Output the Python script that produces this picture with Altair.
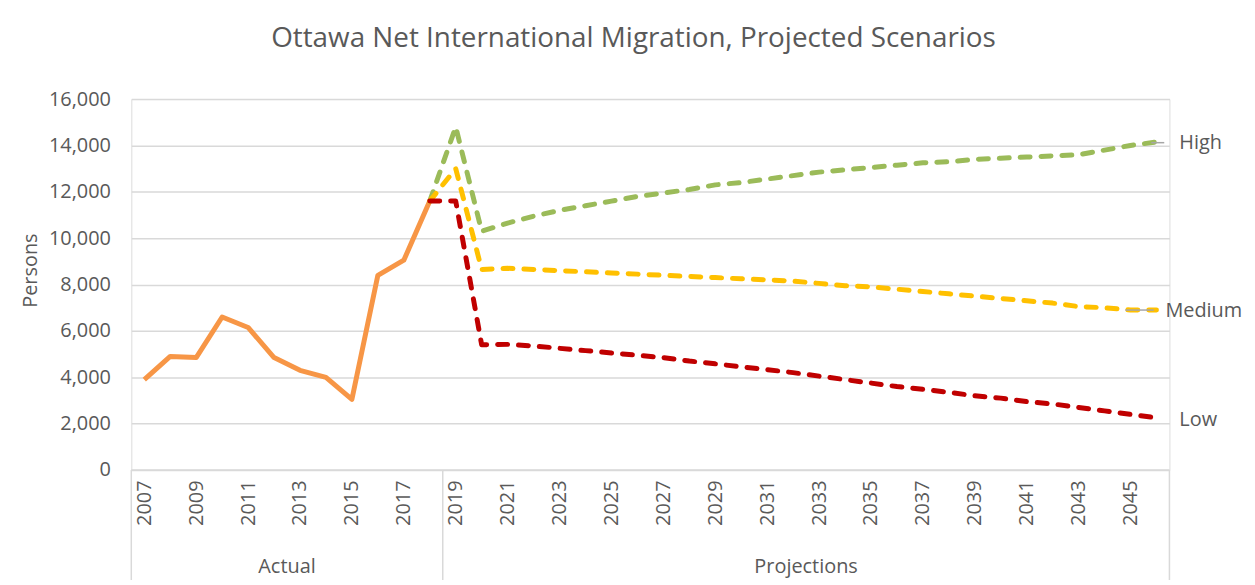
import altair as alt
import pandas as pd

# ---- data ----
actual_years = list(range(2007, 2019))
actual_vals = [3900, 4900, 4850, 6600, 6150, 4850, 4300, 4000, 3050, 8400, 9050, 11600]

proj_years = list(range(2018, 2047))
high_vals = [11600, 14800, 10300, 10650, 10950, 11200, 11400, 11600, 11800, 11950,
             12100, 12300, 12400, 12550, 12700, 12850, 12950, 13050, 13150, 13250,
             13300, 13400, 13450, 13500, 13550, 13600, 13800, 14000, 14150]
medium_vals = [11600, 13000, 8650, 8700, 8650, 8600, 8550, 8500, 8450, 8400,
               8350, 8300, 8250, 8200, 8150, 8050, 7950, 7900, 7800, 7700,
               7600, 7500, 7400, 7300, 7200, 7050, 7000, 6900, 6900]
low_vals = [11600, 11600, 5400, 5420, 5350, 5250, 5150, 5050, 4950, 4850,
            4700, 4580, 4450, 4330, 4200, 4050, 3900, 3750, 3600, 3480,
            3350, 3200, 3100, 2950, 2850, 2700, 2550, 2400, 2250]

tick_years = list(range(2007, 2046, 2))
y_ticks = list(range(0, 16001, 2000))

group_names = ["Actual", "Projections"]
group_centers = [2012.5, 2032.5]
separator_years = [2006.5, 2018.5, 2046.5]

end_labels_far = ["High", "Low"]
end_labels_far_vals = [14200, 2250]
end_labels_near = ["Medium"]
end_labels_near_vals = [6900]
leader_start = [2045.8, 2044.8]
leader_end = [2046.3, 2045.9]
leader_vals = [14120, 6900]

title_text = "Ottawa Net International Migration, Projected Scenarios"

FONT = "Open Sans"
GRAY = "#595959"
GRID = "#d9d9d9"

x_scale = alt.Scale(domain=[2006.5, 2046.5], nice=False, zero=False)
y_scale = alt.Scale(domain=[0, 16000], nice=False)

actual_df = pd.DataFrame({"year": actual_years, "value": actual_vals})
high_df = pd.DataFrame({"year": proj_years, "value": high_vals})
med_df = pd.DataFrame({"year": proj_years, "value": medium_vals})
low_df = pd.DataFrame({"year": proj_years, "value": low_vals})

x_axis = alt.Axis(values=tick_years, format="d", labelAngle=270, labelFont=FONT,
                  labelFontSize=20, labelColor=GRAY, ticks=False, domain=False,
                  grid=False, labelPadding=10, labelOverlap=False, labelFlush=False,
                  title=None)
y_axis = alt.Axis(values=y_ticks, format=",d", labelFont=FONT, labelFontSize=20,
                  labelColor=GRAY, ticks=False, domain=False, grid=True,
                  gridColor=GRID, gridWidth=1.5, labelPadding=21,
                  title="Persons", titleFont=FONT, titleFontSize=20,
                  titleFontWeight="normal", titleColor=GRAY, titleX=-101,
                  titleY=172, titleAngle=270, titleAlign="center",
                  titleBaseline="middle")

base_x = alt.X("year:Q", scale=x_scale, axis=x_axis)
base_y = alt.Y("value:Q", scale=y_scale, axis=y_axis)

actual = alt.Chart(actual_df).mark_line(color="#F79646", strokeWidth=5,
                                        strokeJoin="round").encode(x=base_x, y=base_y)

def dashed(df, color):
    return alt.Chart(df).mark_line(color=color, strokeWidth=5, strokeDash=[10, 11],
                                   strokeCap="round", strokeJoin="round").encode(
        x=alt.X("year:Q", scale=x_scale), y=alt.Y("value:Q", scale=y_scale))

high = dashed(high_df, "#9BBB59")
med = dashed(med_df, "#FFC000")
low = dashed(low_df, "#C00000")

# axis box (horizontal axis line and separators)
sep_df = pd.DataFrame({"year": separator_years})
seps = alt.Chart(sep_df).mark_rule(color=GRID, strokeWidth=1.5).encode(
    x=alt.X("year:Q", scale=x_scale), y=alt.value(373), y2=alt.value(495))
axis_line = alt.Chart(pd.DataFrame({"a": [0]})).mark_rule(color=GRID, strokeWidth=1.5).encode(
    x=alt.value(0), x2=alt.value(1044), y=alt.value(373))

grp_df = pd.DataFrame({"year": group_centers, "name": group_names})
groups = alt.Chart(grp_df).mark_text(font=FONT, fontSize=20, color=GRAY,
                                     baseline="middle").encode(
    x=alt.X("year:Q", scale=x_scale), y=alt.value(471), text="name:N")

far_df = pd.DataFrame({"year": [2046] * len(end_labels_far),
                       "value": end_labels_far_vals, "name": end_labels_far})
near_df = pd.DataFrame({"year": [2046] * len(end_labels_near),
                        "value": end_labels_near_vals, "name": end_labels_near})
far_txt = alt.Chart(far_df).mark_text(font=FONT, fontSize=20, color=GRAY, align="left",
                                      baseline="middle", dx=23, dy=2).encode(
    x=alt.X("year:Q", scale=x_scale), y=alt.Y("value:Q", scale=y_scale), text="name:N")
near_txt = alt.Chart(near_df).mark_text(font=FONT, fontSize=20, color=GRAY, align="left",
                                        baseline="middle", dx=9, dy=1).encode(
    x=alt.X("year:Q", scale=x_scale), y=alt.Y("value:Q", scale=y_scale), text="name:N")

lead_df = pd.DataFrame({"x1": leader_start, "x2": leader_end, "value": leader_vals})
leaders = alt.Chart(lead_df).mark_rule(color="#A6A6A6", strokeWidth=1.5).encode(
    x=alt.X("x1:Q", scale=x_scale), x2="x2:Q", y=alt.Y("value:Q", scale=y_scale))

chart = alt.layer(
    actual, seps, axis_line, groups, high, med, low, leaders, far_txt, near_txt
).properties(
    width=1044, height=373,
    title=alt.TitleParams(title_text, font=FONT, fontSize=28, fontWeight="normal",
                          color=GRAY, anchor="middle", offset=36, dx=-17),
    autosize=alt.AutoSizeParams(type="none"),
    padding={"left": 124, "top": 90, "right": 78, "bottom": 109},
).configure_view(stroke=None).configure(background="white")

chart.save("out.html", embed_options={"renderer": "svg", "actions": False})
